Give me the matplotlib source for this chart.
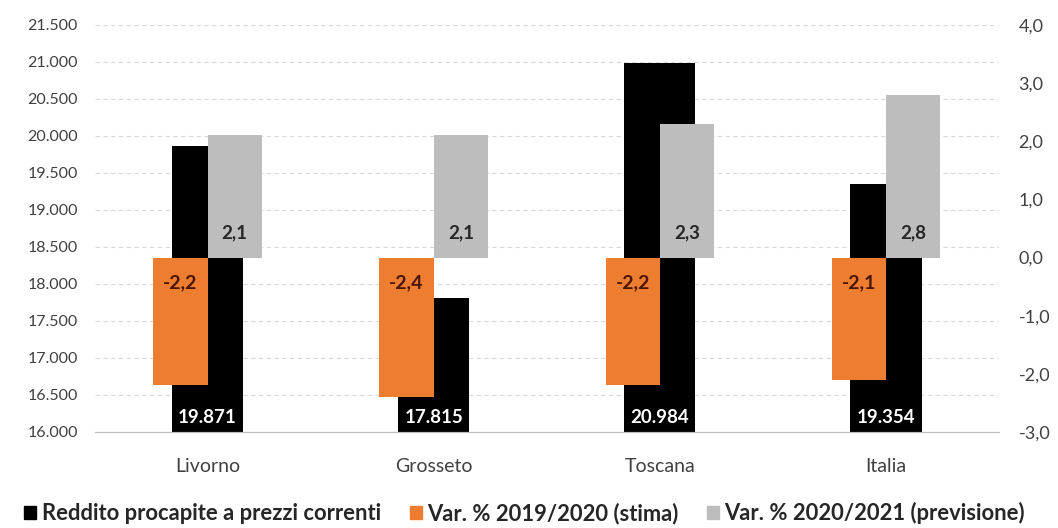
import numpy as np
import matplotlib.pyplot as plt
from matplotlib.ticker import FuncFormatter
from matplotlib.patches import Patch

# Data
regioni = ["Livorno", "Grosseto", "Toscana", "Italia"]
reddito = [19871, 17815, 20984, 19354]
var_2019_2020 = [-2.2, -2.4, -2.2, -2.1]
var_2020_2021 = [2.1, 2.1, 2.3, 2.8]

plt.rcParams['font.family'] = ['Lato', 'DejaVu Sans']

fig = plt.figure(figsize=(10.58, 5.28), dpi=100)
ax = fig.add_axes([94.5 / 1058, 1 - 432 / 528, 904.5 / 1058, 407 / 528])
ax2 = ax.twinx()

x = np.arange(len(regioni))

# Reddito procapite (left axis)
ax.bar(x, np.array(reddito) - 16000, bottom=16000, width=0.315, color="black", zorder=2)
ax.set_ylim(16000, 21500)
ax.set_yticks(np.arange(16000, 21501, 500))
ax.yaxis.set_major_formatter(FuncFormatter(lambda v, p: f"{int(v):,}".replace(",", ".")))
ax.set_xlim(-0.5, len(regioni) - 0.5)
ax.set_xticks(x)
ax.set_xticklabels(regioni, fontsize=14, color="#262626")
ax.grid(axis="y", linestyle=(0, (4, 3)), color="#d9d9d9", linewidth=0.8, zorder=0)
ax.set_axisbelow(True)

# Variazioni percentuali (right axis)
w = 0.24
ax2.bar(x - 0.12, var_2019_2020, width=w, color="#ED7D31", zorder=3)
ax2.bar(x + 0.12, var_2020_2021, width=w, color="#BDBDBD", zorder=3)
ax2.set_ylim(-3, 4)
ax2.set_yticks(np.arange(-3, 4.01, 1))
ax2.yaxis.set_major_formatter(FuncFormatter(lambda v, p: f"{v:.1f}".replace(".", ",")))

for a in (ax, ax2):
    for s in ("top", "left", "right"):
        a.spines[s].set_visible(False)
    a.spines["bottom"].set_color("#bfbfbf")
    a.tick_params(length=0, labelcolor="#404040")
ax.tick_params(axis="x", pad=19)
ax.tick_params(axis="y", pad=12, labelsize=11.5)
ax2.tick_params(axis="y", pad=14, labelsize=13)

# Value labels at bar bases
for i in range(len(regioni)):
    ax.text(x[i], 16190, f"{reddito[i]:,}".replace(",", "."), ha="center", va="center",
            color="white", fontsize=13.5, fontweight="bold")
    ax2.text(x[i] - 0.12, -0.43, f"{var_2019_2020[i]:.1f}".replace(".", ","), ha="center",
             va="center", color="#4A1606", fontsize=14, fontweight="bold", zorder=4)
    ax2.text(x[i] + 0.12, 0.42, f"{var_2020_2021[i]:.1f}".replace(".", ","), ha="center",
             va="center", color="#262626", fontsize=13.5, fontweight="bold", zorder=4)

handles = [Patch(color="black"), Patch(color="#ED7D31"), Patch(color="#BDBDBD")]
labels = ["Reddito procapite a prezzi correnti", "Var. % 2019/2020 (stima)",
          "Var. % 2020/2021 (previsione)"]
fig.legend(handles, labels, loc="center", bbox_to_anchor=(0.496, 1 - 513 / 528), ncol=3,
           frameon=False, prop={"weight": "bold", "size": 15.8}, handlelength=0.55,
           handleheight=0.55, handletextpad=0.25, columnspacing=1.3, labelcolor="#262626",
           borderpad=0.1)

fig.savefig("out.png", dpi=100)
